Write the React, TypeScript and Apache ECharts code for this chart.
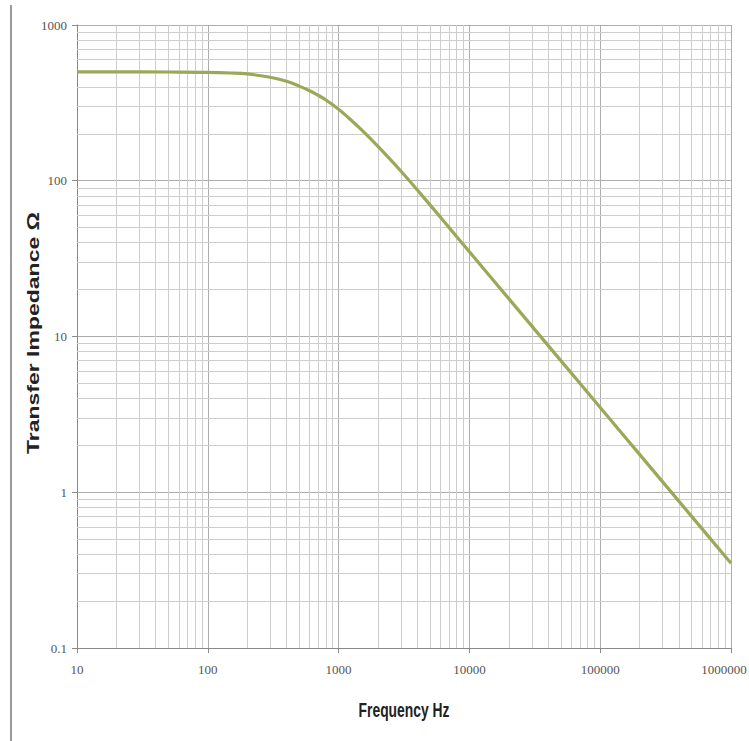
import React, { useEffect, useRef } from "react";
import * as echarts from "echarts";

// Frequency (Hz) and transfer impedance (Ω)
const frequency = [10, 20, 50, 100, 150, 200, 300, 400, 500, 600, 700, 800, 1000, 1200, 1500, 2000, 3000, 5000, 7000, 10000, 20000, 50000, 100000, 200000, 500000, 1000000];
const impedance = [500, 500, 499, 497, 492, 485, 462, 435, 405, 378, 353, 330, 288, 252, 212, 166, 115, 70, 50, 35, 17.5, 7, 3.5, 1.75, 0.7, 0.35];

// Minor grid values (2..9 in each decade)
const minorFrequency = [20, 30, 40, 50, 60, 70, 80, 90, 200, 300, 400, 500, 600, 700, 800, 900, 2000, 3000, 4000, 5000, 6000, 7000, 8000, 9000, 20000, 30000, 40000, 50000, 60000, 70000, 80000, 90000, 200000, 300000, 400000, 500000, 600000, 700000, 800000, 900000];
const minorImpedance = [0.2, 0.3, 0.4, 0.5, 0.6, 0.7, 0.8, 0.9, 2, 3, 4, 5, 6, 7, 8, 9, 20, 30, 40, 50, 60, 70, 80, 90, 200, 300, 400, 500, 600, 700, 800, 900];

const xName = "Frequency Hz";
const yName = "Transfer Impedance Ω";
const xMax = 1000000;

const fmt = (v: number) => String(Number(Number(v).toPrecision(6)));

export default function App() {
  const ref = useRef<HTMLDivElement>(null);
  useEffect(() => {
    if (!ref.current) return;
    const chart = echarts.init(ref.current, undefined, { renderer: "svg" });
    const minorLines = [
      ...minorFrequency.map((f) => ({ xAxis: f })),
      ...minorImpedance.map((v) => ({ yAxis: v })),
    ];
    const labelFont = {
      fontFamily: "'Liberation Serif', serif",
      fontSize: 13,
      color: "#555",
    };
    chart.setOption({
      animation: false,
      backgroundColor: "#ffffff",
      grid: { left: 77, right: 18, top: 25, bottom: 93, outerBoundsMode: "none", containLabel: false },
      xAxis: {
        type: "log",
        logBase: 10,
        min: 10,
        max: xMax,
        axisLine: { show: true, lineStyle: { color: "#8a8a8a", width: 1 } },
        axisTick: { show: true, length: 5, lineStyle: { color: "#8a8a8a" } },
        axisLabel: {
          ...labelFont,
          formatter: (v: number) =>
            Number(v) >= xMax * 0.999 ? "{last|" + fmt(v) + "}" : fmt(v),
          rich: { last: { ...labelFont, padding: [0, 14, 0, 0] } },
          margin: 15,
          hideOverlap: false,
        },
        splitLine: { show: true, lineStyle: { color: "#adadad", width: 1 } },
      },
      yAxis: {
        type: "log",
        logBase: 10,
        min: 0.1,
        max: 1000,
        axisLine: { show: true, lineStyle: { color: "#8a8a8a", width: 1 } },
        axisTick: { show: true, length: 5, lineStyle: { color: "#8a8a8a" } },
        axisLabel: {
          ...labelFont,
          formatter: fmt,
          margin: 10,
        },
        splitLine: { show: true, lineStyle: { color: "#adadad", width: 1 } },
      },
      series: [
        {
          type: "line",
          z: 1,
          data: [],
          silent: true,
          markLine: {
            silent: true,
            symbol: ["none", "none"],
            label: { show: false },
            lineStyle: { color: "#cdcdcd", width: 1, type: "solid" },
            emphasis: { disabled: true },
            data: minorLines,
          },
        },
        {
          type: "line",
          z: 5,
          data: frequency.map((f, i) => [f, impedance[i]]),
          showSymbol: false,
          smooth: 0.4,
          lineStyle: { color: "#9aa858", width: 3.2 },
        },
      ],
      graphic: [
        {
          type: "line",
          shape: { x1: 11, y1: 5, x2: 11, y2: 741 },
          style: { stroke: "#9a9a9a", lineWidth: 2 },
          silent: true,
        },
        {
          type: "text",
          x: 404,
          y: 710,
          scaleX: 0.66,
          style: {
            text: xName,
            font: "bold 21px 'Liberation Sans', Arial, sans-serif",
            fill: "#222",
            textAlign: "center",
            textVerticalAlign: "middle",
          },
        },
        {
          type: "text",
          x: 33,
          y: 333,
          rotation: Math.PI / 2,
          scaleY: 0.72,
          style: {
            text: yName,
            font: "bold 23px 'Liberation Sans', Arial, sans-serif",
            fill: "#222",
            textAlign: "center",
            textVerticalAlign: "middle",
          },
        },
      ],
    });
    return () => chart.dispose();
  }, []);
  return (
    <div
      ref={ref}
      style={{ position: "fixed", left: 0, top: 0, width: 749, height: 741 }}
    />
  );
}
